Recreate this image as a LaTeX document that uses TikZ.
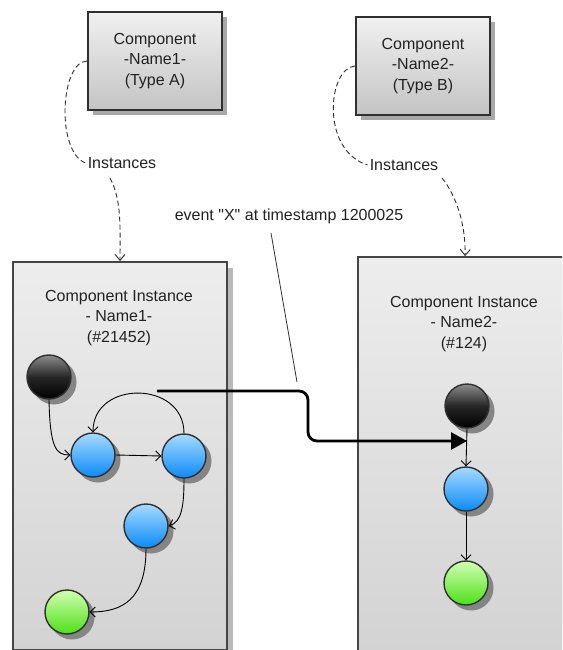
\documentclass[tikz,border=0pt]{standalone}
\usepackage{fontspec}
\setmainfont{Liberation Sans}[Ligatures=TeXOff]
\usetikzlibrary{arrows.meta,shadows}
\definecolor{txt}{HTML}{222222}
\definecolor{edge}{HTML}{303030}
\definecolor{boxtop}{HTML}{F0F0F0}
\definecolor{boxbot}{HTML}{C4C4C4}
\definecolor{insttop}{HTML}{EDEDED}
\definecolor{instbot}{HTML}{D3D3D3}
\definecolor{bluetop}{HTML}{A6DBFF}
\definecolor{bluebot}{HTML}{0A8AF8}
\definecolor{greentop}{HTML}{D2FFB4}
\definecolor{greenbot}{HTML}{4CE016}
\definecolor{shadowgray}{HTML}{A8A8A8}
\definecolor{ballshadow}{HTML}{858585}
\begin{document}
\begin{tikzpicture}[x=1pt,y=-1pt,
  font=\fontsize{16}{20.5}\selectfont, text=txt,
  compbox/.style={draw=edge, line width=2.2pt, top color=boxtop, bottom color=boxbot,
    minimum width=134pt, minimum height=98pt, align=center,
    drop shadow={shadow xshift=5pt, shadow yshift=-5pt, fill=shadowgray, opacity=1}},
  instbox/.style={draw=edge!90, line width=1.8pt, top color=insttop, bottom color=instbot,
    minimum width=214pt, inner sep=0pt,
    drop shadow={shadow xshift=6pt, shadow yshift=-6pt, fill=shadowgray!80, opacity=1}},
  ball/.style={circle, draw=edge, line width=1.4pt, minimum size=44pt, inner sep=0pt},
  ballshade/.style={circle, fill=ballshadow, minimum size=45pt, inner sep=0pt},
  startball/.style={ball, top color=black!45, bottom color=black, middle color=black!85},
  midball/.style={ball, top color=bluetop, bottom color=bluebot},
  endball/.style={ball, top color=greentop, bottom color=greenbot},
  flow/.style={line width=0.9pt, draw=black, -{Straight Barb[length=5pt,width=10pt]}},
  inst/.style={line width=0.9pt, draw=edge, dash pattern=on 5pt off 3pt},
  plain/.style={inner sep=0pt, align=center}
]
\useasboundingbox (0,0) rectangle (562,650);
\clip (0,0) rectangle (562,650);
\fill[white] (0,0) rectangle (562,650);

% component boxes
\node[compbox] (c1) at (155,61) {Component\\-Name1-\\(Type A)};
\node[compbox] (c2) at (423,66) {Component\\-Name2-\\(Type B)};

% instance boxes
\node[instbox, minimum height=388pt] (i1) at (120,456) {};
\node[instbox, minimum height=394pt] (i2) at (465,454) {};

\node[plain] (t1) at (119,318) {Component Instance\\- Name1-\\(\#21452)};
\node[plain] (t2) at (464,324) {Component Instance\\- Name2-\\(\#124)};

% instances labels
\node[plain, inner sep=2pt] (l1) at (122,163) {Instances};
\node[plain, inner sep=2pt] (l2) at (404,165) {Instances};
\coordinate (l1out) at (110,178);
\coordinate (l2out) at (442,178);

\draw[inst] (c1.west) .. controls (60,62) and (56,152) .. (l1.west);
\draw[inst, -{Straight Barb[length=6pt,width=10pt]}] (l1out) .. controls (122,200) and (120,230) .. (i1.north);
\draw[inst] (c2.west) .. controls (328,68) and (320,150) .. (l2.west);
\draw[inst, -{Straight Barb[length=6pt,width=10pt]}] (l2out) .. controls (456,195) and (466,225) .. (i2.north);

% ball shadows (offset copies)
\node[ballshade] (sa0) at (54,382) {};
\node[ballshade] (sa1) at (98,460) {};
\node[ballshade] (sa2) at (189,461) {};
\node[ballshade] (sa3) at (151,531) {};
\node[ballshade] (sa4) at (72,617) {};
\node[ballshade] (sb0) at (472,411) {};
\node[ballshade] (sb1) at (471,494) {};
\node[ballshade] (sb2) at (471,588) {};

% nodes in instance 1
\node[startball] (a0) at (49,377) {};
\node[midball] (a1) at (93,455) {};
\node[midball] (a2) at (184,456) {};
\node[midball] (a3) at (146,526) {};
\node[endball] (a4) at (67,612) {};

\draw[flow] (a0.south) .. controls (50,448) and (56,455) .. (a1.west);
\draw[flow] (a1.east) -- (a2.west);
\draw[flow] (a2.north) .. controls (184,380) and (93,380) .. (a1.north);
\draw[flow] (a2.south) .. controls (184,505) and (182,522) .. (a3.east);
\draw[flow] (a3.south) .. controls (146,600) and (122,612) .. (a4.east);

% nodes in instance 2
\node[startball] (b0) at (467,406) {};
\node[midball] (b1) at (466,489) {};
\node[endball] (b2) at (466,583) {};

\draw[flow] (b0.south) -- (b1.north);
\draw[flow] (b1.south) -- (b2.north);

% event
\node[plain] (ev) at (289,216) {event "X" at timestamp 1200025};
\coordinate (evstart) at (157,391);
\coordinate (evtip) at (467,441);
\coordinate (leadtop) at (271,233);
\coordinate (leadbot) at (297,382);
\draw[line width=0.8pt, draw=edge] (leadtop) -- (leadbot);
\draw[line width=2.8pt, rounded corners=9pt, -{Triangle[length=16pt,width=17pt]}]
  (evstart) -- (308,391) -- (308,441) -- (evtip);
\end{tikzpicture}
\end{document}
